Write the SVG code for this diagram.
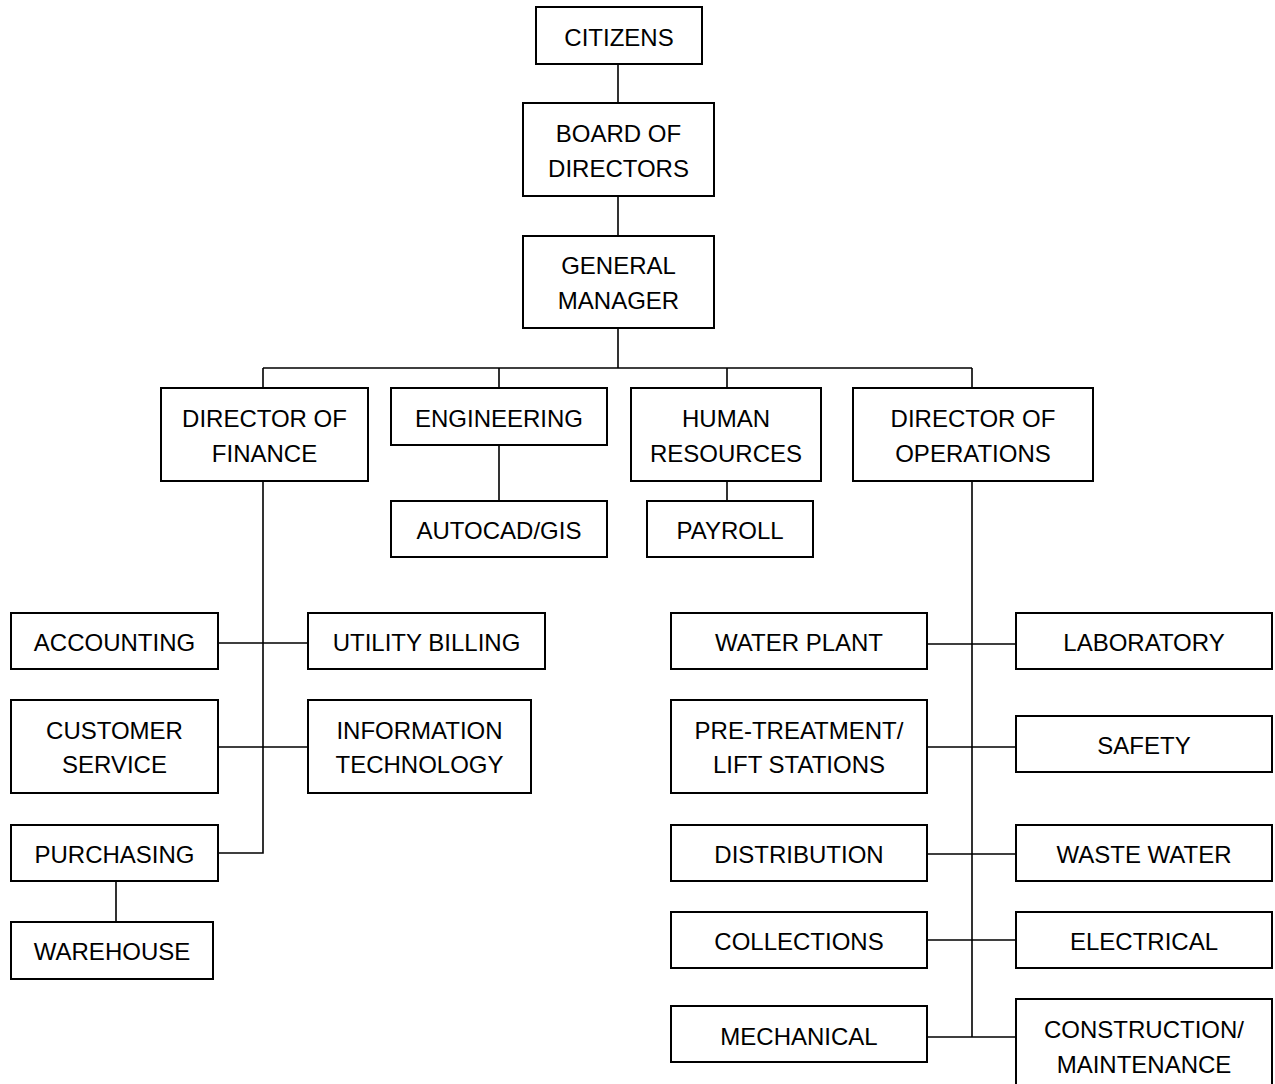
<svg xmlns="http://www.w3.org/2000/svg" width="1275" height="1084" viewBox="0 0 1275 1084">
<style>
.box{fill:#fff;stroke:#000;stroke-width:2}
.t{font-family:"Liberation Sans",Arial,sans-serif;font-size:24px;fill:#000;text-anchor:middle}
.c{stroke:#000;stroke-width:1.6;fill:none}
</style>
<rect width="1275" height="1084" fill="#fff"/>
<g id="connectors">
<path class="c" d="M618 64V103M618 196V236M618 328V368M263 368H972M263 368V388M499 368V388M727 368V388M972 368V388"/>
<path class="c" d="M499 445V501M727 481V501"/>
<path class="c" d="M263 481V853H218M218 643H308M218 747H308M116 881V922"/>
<path class="c" d="M972 481V1037M927 644H1016M927 747H1016M927 854H1016M927 940H1016M927 1037H1016"/>
</g>
<g id="citizens"><rect class="box" x="536" y="7" width="166" height="57"/><text class="t" x="619" y="46">CITIZENS</text></g>
<g id="board"><rect class="box" x="523" y="103" width="191" height="93"/><text class="t" x="618.5" y="142">BOARD OF</text><text class="t" x="618.5" y="177">DIRECTORS</text></g>
<g id="gm"><rect class="box" x="523" y="236" width="191" height="92"/><text class="t" x="618.5" y="274">GENERAL</text><text class="t" x="618.5" y="309">MANAGER</text></g>
<g id="dir-finance"><rect class="box" x="161" y="388" width="207" height="93"/><text class="t" x="264.5" y="427">DIRECTOR OF</text><text class="t" x="264.5" y="462">FINANCE</text></g>
<g id="engineering"><rect class="box" x="391" y="388" width="216" height="57"/><text class="t" x="499" y="427">ENGINEERING</text></g>
<g id="autocad"><rect class="box" x="391" y="501" width="216" height="56"/><text class="t" x="499" y="539">AUTOCAD/GIS</text></g>
<g id="hr"><rect class="box" x="631" y="388" width="190" height="93"/><text class="t" x="726" y="427">HUMAN</text><text class="t" x="726" y="462">RESOURCES</text></g>
<g id="payroll"><rect class="box" x="647" y="501" width="166" height="56"/><text class="t" x="730" y="539">PAYROLL</text></g>
<g id="dir-operations"><rect class="box" x="853" y="388" width="240" height="93"/><text class="t" x="973" y="427">DIRECTOR OF</text><text class="t" x="973" y="462">OPERATIONS</text></g>
<g id="accounting"><rect class="box" x="11" y="613" width="207" height="56"/><text class="t" x="114.5" y="651">ACCOUNTING</text></g>
<g id="utility-billing"><rect class="box" x="308" y="613" width="237" height="56"/><text class="t" x="426.5" y="651">UTILITY BILLING</text></g>
<g id="customer-service"><rect class="box" x="11" y="700" width="207" height="93"/><text class="t" x="114.5" y="739">CUSTOMER</text><text class="t" x="114.5" y="773">SERVICE</text></g>
<g id="information-technology"><rect class="box" x="308" y="700" width="223" height="93"/><text class="t" x="419.5" y="739">INFORMATION</text><text class="t" x="419.5" y="773">TECHNOLOGY</text></g>
<g id="purchasing"><rect class="box" x="11" y="825" width="207" height="56"/><text class="t" x="114.5" y="863">PURCHASING</text></g>
<g id="warehouse"><rect class="box" x="11" y="922" width="202" height="57"/><text class="t" x="112" y="960">WAREHOUSE</text></g>
<g id="water-plant"><rect class="box" x="671" y="613" width="256" height="56"/><text class="t" x="799" y="651">WATER PLANT</text></g>
<g id="laboratory"><rect class="box" x="1016" y="613" width="256" height="56"/><text class="t" x="1144" y="651">LABORATORY</text></g>
<g id="pre-treatment"><rect class="box" x="671" y="700" width="256" height="93"/><text class="t" x="799" y="739">PRE-TREATMENT/</text><text class="t" x="799" y="773">LIFT STATIONS</text></g>
<g id="safety"><rect class="box" x="1016" y="716" width="256" height="56"/><text class="t" x="1144" y="754">SAFETY</text></g>
<g id="distribution"><rect class="box" x="671" y="825" width="256" height="56"/><text class="t" x="799" y="863">DISTRIBUTION</text></g>
<g id="waste-water"><rect class="box" x="1016" y="825" width="256" height="56"/><text class="t" x="1144" y="863">WASTE WATER</text></g>
<g id="collections"><rect class="box" x="671" y="912" width="256" height="56"/><text class="t" x="799" y="950">COLLECTIONS</text></g>
<g id="electrical"><rect class="box" x="1016" y="912" width="256" height="56"/><text class="t" x="1144" y="950">ELECTRICAL</text></g>
<g id="mechanical"><rect class="box" x="671" y="1006" width="256" height="56"/><text class="t" x="799" y="1045">MECHANICAL</text></g>
<g id="construction"><rect class="box" x="1016" y="999" width="256" height="95"/><text class="t" x="1144" y="1038">CONSTRUCTION/</text><text class="t" x="1144" y="1073">MAINTENANCE</text></g>
</svg>
